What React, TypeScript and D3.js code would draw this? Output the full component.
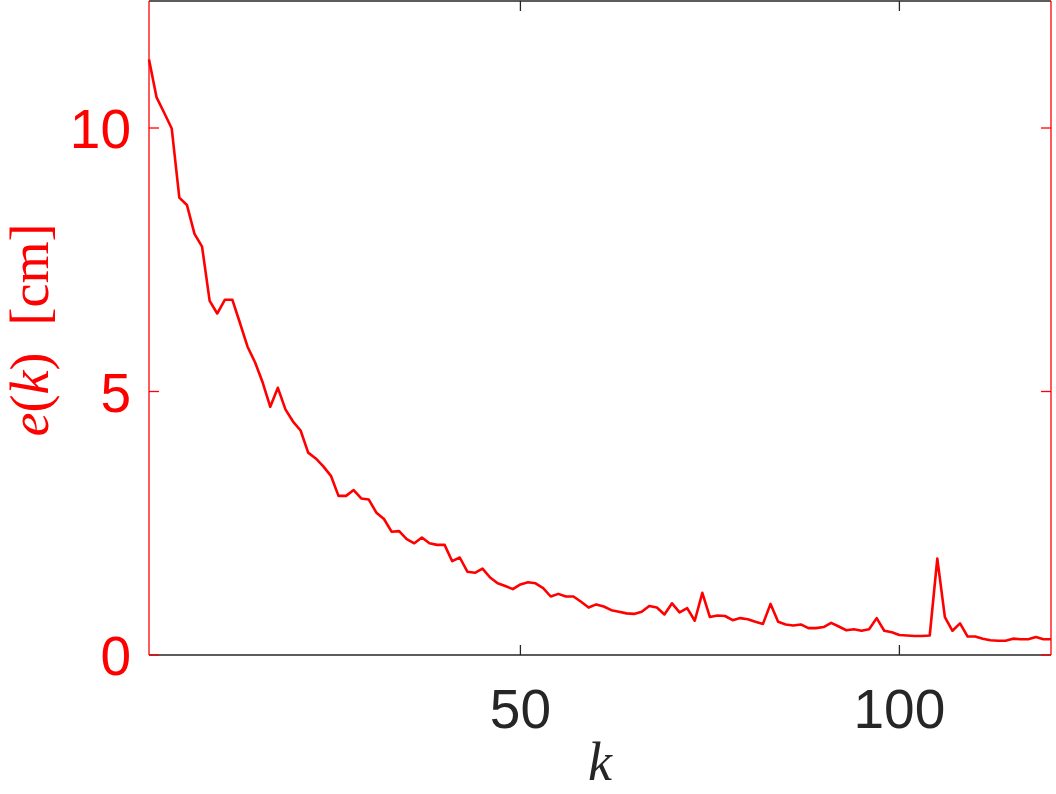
import React from "react";
import * as d3 from "d3";

const errors: number[] = [
  11.3, 10.58, 10.29, 9.99, 8.68, 8.54, 7.99, 7.75, 6.72, 6.48,
  6.74, 6.74, 6.3, 5.85, 5.55, 5.17, 4.71, 5.07, 4.66, 4.43,
  4.26, 3.84, 3.73, 3.58, 3.4, 3.02, 3.02, 3.13, 2.97, 2.95,
  2.7, 2.58, 2.34, 2.35, 2.2, 2.12, 2.23, 2.12, 2.09, 2.09,
  1.78, 1.85, 1.58, 1.56, 1.64, 1.47, 1.36, 1.31, 1.25, 1.34,
  1.38, 1.36, 1.27, 1.11, 1.16, 1.11, 1.11, 1.01, 0.9, 0.96,
  0.92, 0.85, 0.82, 0.79, 0.78, 0.82, 0.93, 0.9, 0.77, 0.98,
  0.81, 0.89, 0.65, 1.18, 0.72, 0.75, 0.74, 0.66, 0.7, 0.68,
  0.63, 0.59, 0.97, 0.63, 0.58, 0.56, 0.58, 0.51, 0.51, 0.53,
  0.61, 0.54, 0.47, 0.49, 0.46, 0.49, 0.7, 0.46, 0.43, 0.38,
  0.37, 0.36, 0.36, 0.37, 1.83, 0.72, 0.46, 0.6, 0.35, 0.35,
  0.31, 0.28, 0.27, 0.27, 0.31, 0.3, 0.3, 0.34, 0.3, 0.3,
];
const kValues: number[] = errors.map((_, i) => i + 1);
const xTicks: number[] = [50, 100];
const yTicks: number[] = [0, 5, 10];
const xDomain: [number, number] = [1, 120];
const yDomain: [number, number] = [0, 12.41];

const W = 1056;
const H = 794;
const left = 149;
const right = 1051;
const top = 1;
const bottom = 655;
const RED = "#ff0000";
const GRAY = "#262626";
const TICK_FONT = "'Liberation Sans', Arial, Helvetica, sans-serif";
const SERIF = "'Liberation Serif', 'DejaVu Serif', serif";

export default function App() {
  const x = d3.scaleLinear().domain(xDomain).range([left, right]);
  const y = d3.scaleLinear().domain(yDomain).range([bottom, top]);
  const line = d3
    .line<number>()
    .x((_, i) => x(kValues[i]))
    .y((d) => y(d));
  const path = line(errors) || "";
  const tickLen = 10;

  return (
    <svg
      width={W}
      height={H}
      viewBox={`0 0 ${W} ${H}`}
      style={{ position: "absolute", left: 0, top: 0, display: "block", background: "#fff" }}
    >
      <line x1={left} x2={right} y1={top} y2={top} stroke={GRAY} strokeWidth={1.3} />
      <line x1={left} x2={right} y1={bottom} y2={bottom} stroke={GRAY} strokeWidth={1.3} />
      {xTicks.map((t) => (
        <g key={"xt" + t}>
          <line x1={x(t)} x2={x(t)} y1={bottom} y2={bottom - tickLen} stroke={GRAY} strokeWidth={1.3} />
          <line x1={x(t)} x2={x(t)} y1={top} y2={top + tickLen} stroke={GRAY} strokeWidth={1.3} />
          <text
            x={x(t)}
            y={728}
            textAnchor="middle"
            fontFamily={TICK_FONT}
            fontSize={55}
            fill={GRAY}
          >
            {t}
          </text>
        </g>
      ))}
      <path d={path} fill="none" stroke={RED} strokeWidth={2.6} strokeLinejoin="round" />
      <line x1={left} x2={left} y1={top} y2={bottom} stroke={RED} strokeWidth={1.3} />
      <line x1={right} x2={right} y1={top} y2={bottom} stroke={RED} strokeWidth={1.3} />
      {yTicks.map((t) => (
        <g key={"yt" + t}>
          <line x1={left} x2={left + tickLen} y1={y(t)} y2={y(t)} stroke={RED} strokeWidth={1.3} />
          <line x1={right} x2={right - tickLen} y1={y(t)} y2={y(t)} stroke={RED} strokeWidth={1.3} />
          <text
            x={131}
            y={y(t) + 20}
            textAnchor="end"
            fontFamily={TICK_FONT}
            fontSize={55}
            fill={RED}
          >
            {t}
          </text>
        </g>
      ))}
      <text
        x={600}
        y={780}
        textAnchor="middle"
        fontFamily={SERIF}
        fontStyle="italic"
        fontSize={54}
        fill={GRAY}
      >
        k
      </text>
      <text
        transform={`translate(48, 330) rotate(-90)`}
        textAnchor="middle"
        fontFamily={SERIF}
        fontSize={54}
        fill={RED}
      >
        <tspan fontStyle="italic">e</tspan>
        <tspan>(</tspan>
        <tspan fontStyle="italic">k</tspan>
        <tspan>)</tspan>
        <tspan>{"\u00a0\u00a0[cm]"}</tspan>
      </text>
    </svg>
  );
}
